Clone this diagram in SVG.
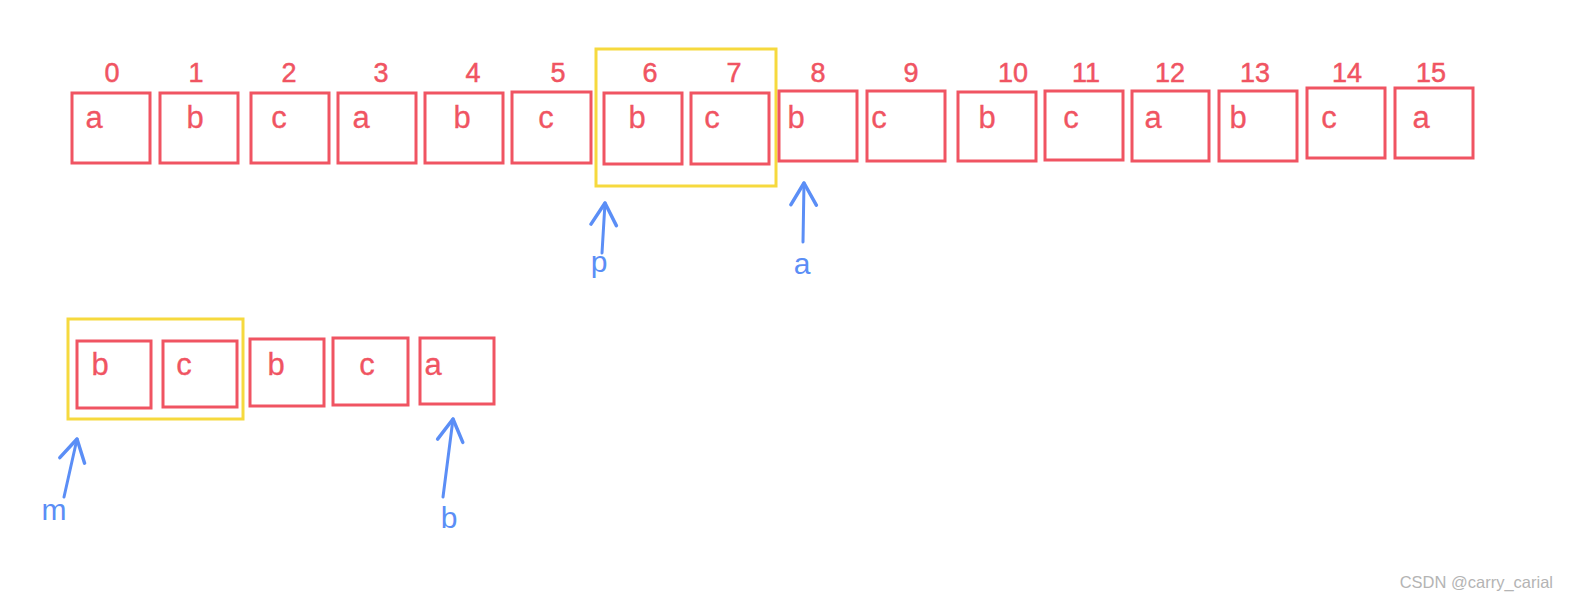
<svg xmlns="http://www.w3.org/2000/svg" width="1570" height="602" viewBox="0 0 1570 602">
<style>
.cell{fill:none;stroke:#f05462;stroke-width:3}
.win{fill:none;stroke:#f6d93e;stroke-width:3}
.idx{font-family:"Liberation Sans",Arial,sans-serif;font-size:27px;fill:#f05462;stroke:#f05462;stroke-width:0.5;text-anchor:middle}
.ch{font-family:"Liberation Sans",Arial,sans-serif;font-size:31px;fill:#f05462;stroke:#f05462;stroke-width:0.3;text-anchor:middle}
.ptr{font-family:"Liberation Sans",Arial,sans-serif;font-size:30px;fill:#5b8ef6;text-anchor:middle}
.arr{fill:none;stroke:#5b8ef6;stroke-width:3;stroke-linecap:round;marker-end:url(#open)}
.wm{font-family:"Liberation Sans",Arial,sans-serif;font-size:16.5px;fill:#b4b4b4;text-anchor:end}
</style>
<defs>
<marker id="open" markerUnits="userSpaceOnUse" markerWidth="30" markerHeight="30" viewBox="-22 -13 26 26" refX="0" refY="0" orient="auto">
<path d="M-19,-11 L0,0 L-19,11" fill="none" stroke="#5b8ef6" stroke-width="3" stroke-linecap="round" stroke-linejoin="round"/>
</marker>
</defs>
<rect width="1570" height="602" fill="#ffffff"/>

<g id="windows">
<rect id="win-top" class="win" x="596" y="49" width="180" height="137"/>
<rect id="win-bottom" class="win" x="68" y="319" width="175" height="100"/>
</g>

<g id="top-row">
<g id="cell0"><rect class="cell" x="72" y="93" width="78" height="70"/><text class="idx" x="112" y="82">0</text><text class="ch" x="94" y="128">a</text></g>
<g id="cell1"><rect class="cell" x="160" y="93" width="78" height="70"/><text class="idx" x="196" y="82">1</text><text class="ch" x="195" y="128">b</text></g>
<g id="cell2"><rect class="cell" x="251" y="93" width="78" height="70"/><text class="idx" x="289" y="82">2</text><text class="ch" x="279" y="128">c</text></g>
<g id="cell3"><rect class="cell" x="338" y="93" width="78" height="70"/><text class="idx" x="381" y="82">3</text><text class="ch" x="361" y="128">a</text></g>
<g id="cell4"><rect class="cell" x="425" y="93" width="78" height="70"/><text class="idx" x="473" y="82">4</text><text class="ch" x="462" y="128">b</text></g>
<g id="cell5"><rect class="cell" x="512" y="92" width="79" height="71"/><text class="idx" x="558" y="82">5</text><text class="ch" x="546" y="128">c</text></g>
<g id="cell6"><rect class="cell" x="604" y="93" width="78" height="71"/><text class="idx" x="650" y="82">6</text><text class="ch" x="637" y="128">b</text></g>
<g id="cell7"><rect class="cell" x="691" y="93" width="78" height="71"/><text class="idx" x="734" y="82">7</text><text class="ch" x="712" y="128">c</text></g>
<g id="cell8"><rect class="cell" x="779" y="91" width="78" height="70"/><text class="idx" x="818" y="82">8</text><text class="ch" x="796" y="128">b</text></g>
<g id="cell9"><rect class="cell" x="867" y="91" width="78" height="70"/><text class="idx" x="911" y="82">9</text><text class="ch" x="879" y="128">c</text></g>
<g id="cell10"><rect class="cell" x="958" y="92" width="78" height="69"/><text class="idx" x="1013" y="82">10</text><text class="ch" x="987" y="128">b</text></g>
<g id="cell11"><rect class="cell" x="1045" y="91" width="78" height="69"/><text class="idx" x="1086" y="82">11</text><text class="ch" x="1071" y="128">c</text></g>
<g id="cell12"><rect class="cell" x="1132" y="91" width="77" height="70"/><text class="idx" x="1170" y="82">12</text><text class="ch" x="1153" y="128">a</text></g>
<g id="cell13"><rect class="cell" x="1219" y="91" width="78" height="70"/><text class="idx" x="1255" y="82">13</text><text class="ch" x="1238" y="128">b</text></g>
<g id="cell14"><rect class="cell" x="1307" y="88" width="78" height="70"/><text class="idx" x="1347" y="82">14</text><text class="ch" x="1329" y="128">c</text></g>
<g id="cell15"><rect class="cell" x="1395" y="88" width="78" height="70"/><text class="idx" x="1431" y="82">15</text><text class="ch" x="1421" y="128">a</text></g>
</g>

<g id="bottom-row">
<g id="bcell0"><rect class="cell" x="77" y="341" width="74" height="67"/><text class="ch" x="100" y="375">b</text></g>
<g id="bcell1"><rect class="cell" x="163" y="341" width="74" height="66"/><text class="ch" x="184" y="375">c</text></g>
<g id="bcell2"><rect class="cell" x="250" y="339" width="74" height="67"/><text class="ch" x="276" y="375">b</text></g>
<g id="bcell3"><rect class="cell" x="333" y="338" width="75" height="67"/><text class="ch" x="367" y="375">c</text></g>
<g id="bcell4"><rect class="cell" x="420" y="338" width="74" height="66"/><text class="ch" x="433" y="375">a</text></g>
</g>

<g id="connectors">
<path id="arrow-p" class="arr" d="M602,253 L605,203"/>
<path id="arrow-a" class="arr" d="M803,242 L804,183"/>
<path id="arrow-m" class="arr" d="M64,497 L77,439"/>
<path id="arrow-b" class="arr" d="M443,497 L453,419"/>
</g>

<g id="pointer-labels">
<text id="label-p" class="ptr" x="599" y="272">p</text>
<text id="label-a" class="ptr" x="802" y="274">a</text>
<text id="label-m" class="ptr" x="54" y="520">m</text>
<text id="label-b" class="ptr" x="449" y="528">b</text>
</g>

<text id="watermark" class="wm" x="1553" y="588">CSDN @carry_carial</text>
</svg>
